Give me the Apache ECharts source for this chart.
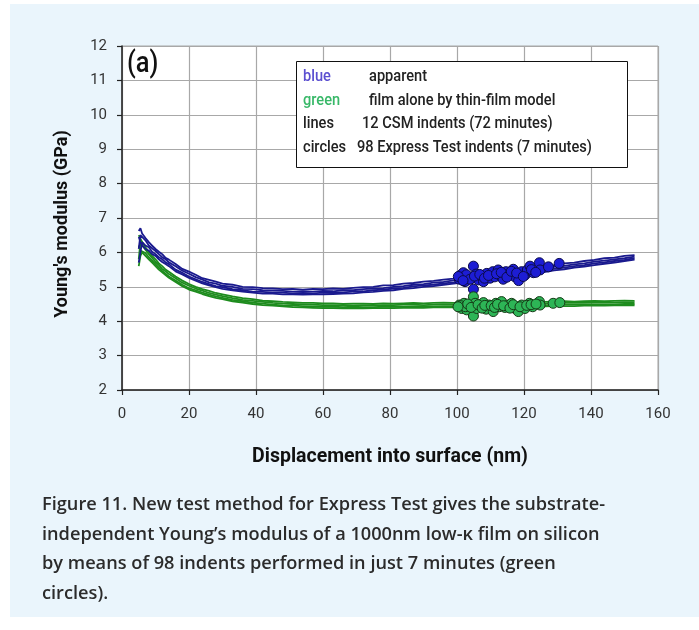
<!DOCTYPE html>
<html>
<head>
<meta charset="utf-8">
<script src="https://cdn.jsdelivr.net/npm/echarts@6/dist/echarts.min.js"></script>
<style>
  html, body { margin: 0; padding: 0; background: #fff; }
  #main { width: 699px; height: 630px; }
</style>
</head>
<body>
<div id="main"></div>
<script>
// displacement (nm) shared by all CSM curves
var depth = [
  5, 5.5, 6, 7, 8, 9, 10, 11, 12, 13,
  14, 16, 18, 20, 22, 24, 26, 28, 30, 33,
  36, 39, 42, 45, 48, 51, 54, 57, 60, 63,
  66, 69, 72, 75, 78, 81, 84, 87, 90, 93,
  96, 99, 102, 105, 108, 111, 114, 117, 120, 123,
  126, 129, 132, 135, 138, 141, 144, 147, 150, 153
];

// blue = apparent modulus, CSM indents
var blue1 = [
  6.62, 6.7, 6.55, 6.42, 6.3, 6.2, 6.1, 6.02, 5.95, 5.84,
  5.79, 5.66, 5.52, 5.44, 5.35, 5.25, 5.2, 5.15, 5.09, 5.06,
  5.0, 4.99, 4.96, 4.95, 4.93, 4.94, 4.92, 4.94, 4.93, 4.95,
  4.94, 4.97, 4.99, 5.0, 5.04, 5.05, 5.09, 5.11, 5.15, 5.17,
  5.21, 5.24, 5.28, 5.31, 5.36, 5.38, 5.43, 5.46, 5.51, 5.54,
  5.59, 5.63, 5.68, 5.7, 5.75, 5.78, 5.83, 5.85, 5.9, 5.92
];
var blue2 = [
  6.1, 6.5, 6.45, 6.35, 6.2, 6.12, 6.04, 5.95, 5.86, 5.8,
  5.71, 5.6, 5.47, 5.38, 5.28, 5.21, 5.13, 5.09, 5.03, 5.0,
  4.94, 4.93, 4.9, 4.89, 4.88, 4.86, 4.87, 4.86, 4.88, 4.87,
  4.9, 4.9, 4.93, 4.95, 4.96, 5.0, 5.02, 5.06, 5.08, 5.12,
  5.14, 5.19, 5.21, 5.26, 5.29, 5.33, 5.36, 5.41, 5.44, 5.49,
  5.52, 5.58, 5.61, 5.65, 5.68, 5.73, 5.76, 5.8, 5.83, 5.88
];
var blue3 = [
  5.7, 6.0, 6.3, 6.2, 6.15, 6.02, 5.95, 5.86, 5.8, 5.71,
  5.66, 5.5, 5.41, 5.3, 5.22, 5.14, 5.08, 5.02, 4.99, 4.93,
  4.9, 4.86, 4.85, 4.83, 4.83, 4.81, 4.82, 4.81, 4.83, 4.82,
  4.84, 4.86, 4.87, 4.9, 4.92, 4.95, 4.97, 5.01, 5.04, 5.06,
  5.1, 5.13, 5.17, 5.2, 5.25, 5.27, 5.32, 5.35, 5.4, 5.43,
  5.48, 5.52, 5.56, 5.6, 5.63, 5.68, 5.71, 5.75, 5.78, 5.83
];
var blue4 = [
  6.45, 6.3, 6.2, 6.1, 6.05, 5.95, 5.9, 5.8, 5.72, 5.66,
  5.6, 5.45, 5.36, 5.26, 5.18, 5.1, 5.04, 4.99, 4.94, 4.9,
  4.86, 4.83, 4.8, 4.8, 4.78, 4.78, 4.77, 4.78, 4.78, 4.79,
  4.8, 4.81, 4.84, 4.85, 4.88, 4.9, 4.94, 4.96, 5.0, 5.02,
  5.06, 5.09, 5.13, 5.16, 5.2, 5.23, 5.27, 5.31, 5.35, 5.39,
  5.43, 5.48, 5.51, 5.56, 5.59, 5.63, 5.67, 5.7, 5.75, 5.79
];

// green = film alone by thin-film model, CSM indents
var green1 = [
  6.5, 6.45, 6.3, 6.15, 6.02, 5.9, 5.8, 5.68, 5.6, 5.5,
  5.44, 5.3, 5.18, 5.08, 5.0, 4.93, 4.88, 4.82, 4.78, 4.72,
  4.67, 4.64, 4.6, 4.58, 4.56, 4.55, 4.53, 4.53, 4.52, 4.52,
  4.5, 4.51, 4.51, 4.5, 4.52, 4.51, 4.52, 4.53, 4.52, 4.53,
  4.54, 4.53, 4.54, 4.55, 4.54, 4.55, 4.56, 4.55, 4.56, 4.57,
  4.56, 4.57, 4.58, 4.57, 4.58, 4.59, 4.58, 4.59, 4.6, 4.59
];
var green2 = [
  5.8, 6.3, 6.22, 6.08, 5.95, 5.84, 5.72, 5.63, 5.52, 5.45,
  5.37, 5.25, 5.12, 5.03, 4.95, 4.89, 4.82, 4.77, 4.73, 4.67,
  4.62, 4.59, 4.56, 4.53, 4.51, 4.5, 4.49, 4.48, 4.47, 4.47,
  4.46, 4.46, 4.47, 4.46, 4.47, 4.47, 4.48, 4.48, 4.47, 4.48,
  4.49, 4.49, 4.49, 4.5, 4.5, 4.5, 4.51, 4.51, 4.51, 4.52,
  4.52, 4.52, 4.53, 4.53, 4.53, 4.54, 4.54, 4.54, 4.55, 4.55
];
var green3 = [
  6.2, 6.05, 6.1, 5.98, 5.86, 5.76, 5.66, 5.56, 5.46, 5.38,
  5.3, 5.18, 5.06, 4.96, 4.9, 4.83, 4.77, 4.72, 4.68, 4.62,
  4.58, 4.54, 4.51, 4.48, 4.46, 4.45, 4.44, 4.43, 4.42, 4.42,
  4.41, 4.42, 4.41, 4.41, 4.42, 4.42, 4.42, 4.43, 4.43, 4.43,
  4.44, 4.44, 4.44, 4.45, 4.45, 4.45, 4.46, 4.46, 4.46, 4.47,
  4.47, 4.47, 4.48, 4.48, 4.48, 4.49, 4.49, 4.49, 4.5, 4.5
];
var green4 = [
  5.6, 5.9, 6.0, 5.9, 5.8, 5.7, 5.6, 5.5, 5.42, 5.34,
  5.26, 5.14, 5.02, 4.92, 4.86, 4.79, 4.73, 4.68, 4.64, 4.58,
  4.54, 4.5, 4.47, 4.45, 4.43, 4.41, 4.4, 4.39, 4.38, 4.38,
  4.37, 4.37, 4.37, 4.38, 4.38, 4.38, 4.39, 4.39, 4.39, 4.4,
  4.4, 4.4, 4.41, 4.41, 4.41, 4.42, 4.42, 4.42, 4.43, 4.43,
  4.43, 4.44, 4.44, 4.44, 4.45, 4.45, 4.45, 4.46, 4.46, 4.46
];

// Express Test indents: [depth, modulus]
var blueDots = [
  [100.7, 5.22], [101.1, 5.34], [101.9, 5.41], [102.4, 5.15], [103.4, 5.29],
  [104.9, 5.6], [104.9, 4.93], [104.4, 5.25], [105.7, 5.37], [106.4, 5.2],
  [107.4, 5.29], [107.9, 5.15], [108.9, 5.39], [109.9, 5.25], [110.7, 5.44],
  [111.3, 5.29], [112.3, 5.49], [112.8, 5.34], [113.8, 5.22], [114.6, 5.44],
  [115.8, 5.34], [116.8, 5.51], [117.3, 5.29], [118.4, 5.18], [119.3, 5.44],
  [120.3, 5.34], [121.0, 5.49], [121.8, 5.6], [122.8, 5.41], [124.6, 5.7],
  [124.8, 5.49], [127.3, 5.58], [130.5, 5.68], [101.5, 5.28], [102.8, 5.35],
  [103.9, 5.22], [105.2, 5.31], [106.8, 5.36], [108.2, 5.25], [109.4, 5.33],
  [111.8, 5.38], [113.2, 5.42], [114.9, 5.28], [116.2, 5.45], [117.8, 5.4],
  [119.8, 5.3], [122.2, 5.5], [123.5, 5.42], [100.4, 5.3], [101.8, 5.18]
];
var greenDots = [
  [100.7, 4.47], [101.4, 4.37], [102.1, 4.52], [102.9, 4.33], [103.7, 4.44],
  [104.9, 4.71], [104.9, 4.15], [105.4, 4.52], [105.9, 4.37], [107.1, 4.44],
  [107.9, 4.54], [108.7, 4.35], [109.6, 4.47], [110.8, 4.28], [111.6, 4.52],
  [112.6, 4.42], [113.3, 4.57], [114.3, 4.4], [115.3, 4.47], [116.3, 4.52],
  [117.3, 4.37], [118.3, 4.28], [119.3, 4.47], [120.3, 4.37], [121.6, 4.52],
  [122.6, 4.42], [124.6, 4.57], [124.8, 4.47], [128.7, 4.52], [130.7, 4.54],
  [101.2, 4.45], [102.5, 4.42], [103.2, 4.5], [104.2, 4.4], [106.3, 4.48],
  [107.5, 4.38], [108.3, 4.46], [110.2, 4.45], [111.2, 4.4], [112.1, 4.49],
  [113.9, 4.45], [115.8, 4.38], [116.8, 4.48], [118.8, 4.42], [120.8, 4.46],
  [122.1, 4.48], [100.3, 4.42], [123.6, 4.5]
];

var legendRows = [
  ['blue', 'apparent'],
  ['green', 'film alone by thin-film model'],
  ['lines', '12 CSM indents (72 minutes)'],
  ['circles', '98 Express Test indents (7 minutes)']
];

var captionLines = [
  'Figure 11. New test method for Express Test gives the substrate-',
  'independent Young\u2019s modulus of a 1000nm low-\u03ba film on silicon',
  'by means of 98 indents performed in just 7 minutes (green',
  'circles).'
];

var chartFont = "Roboto, 'Liberation Sans', sans-serif";
var blueLine = '#1a1a8e';
var greenLine = '#1e8c1e';

function pairs(ys) {
  var out = [];
  for (var i = 0; i < depth.length && i < ys.length; i++) {
    out.push([depth[i], ys[i]]);
  }
  return out;
}

function lineSeries(ys, color) {
  return {
    type: 'line',
    data: pairs(ys),
    showSymbol: false,
    silent: true,
    lineStyle: { color: color, width: 1.8 },
    z: 2
  };
}

var myChart = echarts.init(document.getElementById('main'));

// legend box text, squeezed horizontally to look like a narrow face
var legendText = [];
var colColors = ['#5b4fd0', '#38b868', '#222', '#222'];
var col2x = [369, 369, 362, 357];
for (var i = 0; i < legendRows.length; i++) {
  legendText.push({
    type: 'text', x: 303, y: 77 + i * 23.5, scaleX: 0.86, z: 20,
    style: { text: legendRows[i][0], fill: colColors[i], font: '500 17px ' + chartFont, verticalAlign: 'middle' }
  });
  legendText.push({
    type: 'text', x: col2x[i], y: 77 + i * 23.5, scaleX: 0.86, z: 20,
    style: { text: legendRows[i][1], fill: '#222', font: '500 17px ' + chartFont, verticalAlign: 'middle' }
  });
}

var captionText = [];
for (var j = 0; j < captionLines.length; j++) {
  captionText.push({
    type: 'text', left: 42, top: 496 + j * 29.6, z: 20,
    style: { text: captionLines[j], fill: '#2b2b2b', font: '600 18.2px "Open Sans", "Noto Sans", sans-serif' }
  });
}

var option = {
  backgroundColor: '#ffffff',
  animation: false,
  graphic: [
    { type: 'rect', z: -10, shape: { x: 10, y: 4, width: 689, height: 613 }, style: { fill: '#eaf5fc' } },
    { type: 'rect', z: 15, shape: { x: 296.5, y: 61.5, width: 331, height: 106 },
      style: { fill: '#ffffff', stroke: '#111', lineWidth: 1 } },
    { type: 'text', x: 127, y: 64, scaleX: 0.85, z: 20,
      style: { text: '(a)', fill: '#111', font: '500 30px ' + chartFont, verticalAlign: 'middle' } },
    // y-axis title as text so it can sit where the reference puts it
    { type: 'text', x: 62, y: 224, rotation: Math.PI / 2, z: 20,
      style: { text: "Young's modulus (GPa)", fill: '#111', font: 'bold 18px ' + chartFont,
        align: 'center', verticalAlign: 'middle' } }
  ].concat(legendText, captionText),
  grid: {
    left: 122, top: 46, width: 536, height: 344,
    show: true, backgroundColor: '#ffffff', borderColor: '#a8a8a8', borderWidth: 1
  },
  xAxis: {
    type: 'value', min: 0, max: 160, interval: 20,
    name: 'Displacement into surface (nm)',
    nameLocation: 'middle', nameGap: 57,
    nameTextStyle: { fontFamily: chartFont, fontWeight: 'bold', fontSize: 19.5, color: '#111' },
    axisLine: { onZero: false, lineStyle: { color: '#222', width: 1.5 } },
    axisTick: { show: true, length: 5, lineStyle: { color: '#222', width: 1.2 } },
    axisLabel: { fontFamily: chartFont, fontSize: 15, color: '#333', margin: 17 },
    splitLine: { show: true, lineStyle: { color: '#a8a8a8', width: 1.2 } }
  },
  yAxis: {
    type: 'value', min: 2, max: 12, interval: 1,
    axisLine: { show: true, lineStyle: { color: '#222', width: 1.5 } },
    axisTick: { show: true, length: 5, lineStyle: { color: '#222', width: 1.2 } },
    axisLabel: { fontFamily: chartFont, fontSize: 15, color: '#333', margin: 15 },
    splitLine: { show: true, lineStyle: { color: '#a8a8a8', width: 1.2 } }
  },
  series: [
    lineSeries(green1, greenLine), lineSeries(green2, greenLine),
    lineSeries(green3, greenLine), lineSeries(green4, greenLine),
    lineSeries(blue1, blueLine), lineSeries(blue2, blueLine),
    lineSeries(blue3, blueLine), lineSeries(blue4, blueLine),
    {
      type: 'scatter', data: blueDots, symbolSize: 10, z: 5,
      itemStyle: { color: '#1d1dd4', borderColor: '#0b0b4a', borderWidth: 1, opacity: 1 }
    },
    {
      type: 'scatter', data: greenDots, symbolSize: 10, z: 5,
      itemStyle: { color: '#2db556', borderColor: '#163a16', borderWidth: 1, opacity: 1 }
    }
  ]
};

myChart.setOption(option);
window.onresize = myChart.resize;
</script>
</body>
</html>
